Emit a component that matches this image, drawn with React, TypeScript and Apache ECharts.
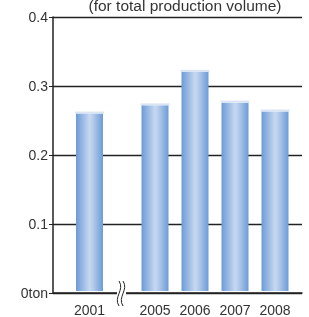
import React, { useEffect, useRef } from "react";
import * as echarts from "echarts";

const firstYear = ["2001"];
const firstValues = [0.259];
const laterYears = ["2005", "2006", "2007", "2008"];
const laterValues = [0.271, 0.32, 0.275, 0.262];
const yTicks = [0, 0.1, 0.2, 0.3, 0.4];
const titleText = "(for total production volume)";

const FONT = "Liberation Sans, Arial, sans-serif";
const TEXT = "#333";
const LINE = "#222";

const barColor = new echarts.graphic.LinearGradient(0, 0, 1, 0, [
  { offset: 0, color: "#6c9bd7" },
  { offset: 0.5, color: "#c6d7f0" },
  { offset: 0.6, color: "#bacfec" },
  { offset: 1, color: "#6c9bd7" },
]);

export default function App() {
  const ref = useRef<HTMLDivElement>(null);
  useEffect(() => {
    document.body.style.margin = "0";
    const chart = echarts.init(ref.current!, null, { renderer: "svg" });
    const top = 17;
    const height = 276;
    const hiddenY = (gi: number) => ({
      type: "value",
      gridIndex: gi,
      min: 0,
      max: 0.4,
      show: false,
    });
    const catX = (gi: number, data: string[]) => ({
      type: "category",
      gridIndex: gi,
      data,
      axisLine: { show: false },
      axisTick: { show: false },
      axisLabel: { fontSize: 14, color: TEXT, fontFamily: FONT, margin: 12, interval: 0, hideOverlap: false },
    });
    const bars = (gi: number, data: number[]) => ({
      type: "bar",
      xAxisIndex: gi,
      yAxisIndex: gi,
      data,
      barWidth: 27,
      itemStyle: { color: barColor },
      z: 3,
    });
    const caps = (gi: number, data: number[]) => ({
      type: "scatter",
      xAxisIndex: gi,
      yAxisIndex: gi,
      data,
      symbol: "rect",
      symbolSize: [29, 2],
      symbolOffset: [0, -1],
      itemStyle: { color: "#d9e4f4", opacity: 1 },
      z: 4,
    });
    chart.setOption({
      animation: false,
      title: {
        text: titleText,
        left: 180,
        textAlign: "center",
        top: -8,
        textStyle: { fontSize: 15.5, fontWeight: "normal", color: TEXT, fontFamily: FONT },
      },
      grid: [
        { left: 53, width: 249, top, height },
        { left: 70, width: 39, top, height },
        { left: 135, width: 160, top, height },
      ],
      xAxis: [
        {
          type: "value",
          gridIndex: 0,
          min: 0,
          max: 1,
          axisLine: { show: true, onZero: false, lineStyle: { color: LINE, width: 1.5 } },
          axisTick: { show: false },
          axisLabel: { show: false },
          splitLine: { show: false },
        },
        catX(1, firstYear),
        catX(2, laterYears),
      ],
      yAxis: [
        {
          type: "value",
          gridIndex: 0,
          min: 0,
          max: 0.4,
          interval: 0.1,
          axisLine: { show: true, lineStyle: { color: LINE, width: 1.5 } },
          axisTick: { show: true, length: 4, lineStyle: { color: LINE } },
          axisLabel: {
            fontSize: 14,
            color: TEXT,
            fontFamily: FONT,
            margin: 5,
            formatter: (v: number) => {
              const t = yTicks.find((x) => Math.abs(x - v) < 1e-9);
              if (t === 0) return "0ton";
              return t !== undefined ? t.toFixed(1) : "";
            },
          },
          splitLine: { show: true, lineStyle: { color: LINE, width: 1.3 } },
        },
        hiddenY(1),
        hiddenY(2),
      ],
      series: [
        bars(1, firstValues),
        caps(1, firstValues),
        bars(2, laterValues),
        caps(2, laterValues),
      ],
      graphic: [
        { type: "rect", shape: { x: 117, y: 290, width: 9, height: 6 }, style: { fill: "#fff" }, z: 10 },
        {
          type: "bezierCurve",
          shape: { x1: 119, y1: 281, x2: 119, y2: 306, cpx1: 125, cpy1: 290, cpx2: 113, cpy2: 297 },
          style: { stroke: LINE, lineWidth: 1, fill: null },
          z: 11,
        },
        {
          type: "bezierCurve",
          shape: { x1: 123, y1: 281, x2: 123, y2: 306, cpx1: 129, cpy1: 290, cpx2: 117, cpy2: 297 },
          style: { stroke: LINE, lineWidth: 1, fill: null },
          z: 11,
        },
      ],
    });
    return () => chart.dispose();
  }, []);
  return <div ref={ref} style={{ position: "fixed", left: 0, top: 0, width: 309, height: 317 }} />;
}
